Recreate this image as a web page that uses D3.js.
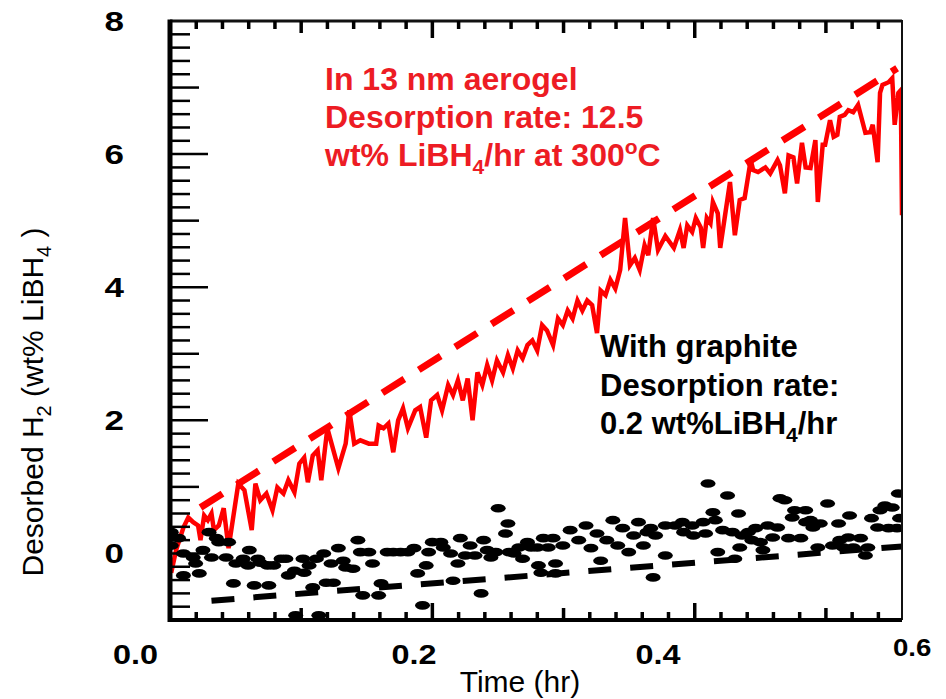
<!DOCTYPE html>
<html>
<head>
<meta charset="utf-8">
<script src="https://cdn.jsdelivr.net/npm/d3@7"></script>
<style>
  body { margin: 0; background: #fff; }
  text { font-family: "Liberation Sans", Arial, sans-serif; }
</style>
</head>
<body>
<div id="chart"></div>
<script>
// x labels as printed on the figure, and y labels
var xLabelValues = [0, 0.2, 0.4, 0.6]
var xLabelText = ["0.0", "0.2", "0.4", "0.6"]
var yLabelValues = [0, 2, 4, 6, 8]

// tick marks of the original axis (hours, drawn over a 0..0.558 hr span)
var xTickMinor = d3.range(0, 0.5401, 0.02)
var xTickMid = [0.1, 0.3, 0.5]
var xTickMajor = [0, 0.2, 0.4]
var yTickMinor = d3.range(-1, 8.001, 0.2)

// aerogel run: [time hr, desorbed H2 wt%]
var aerogelRun = [
  [0.001,-0.29],[0.005,0.05],[0.011,0.39],[0.015,0.54],[0.019,0.47],[0.023,0.42],[0.025,0.20],
  [0.028,0.57],[0.031,0.50],[0.034,0.60],[0.036,0.35],[0.040,0.42],[0.044,0.68],[0.048,0.08],
  [0.056,1.05],[0.061,0.95],[0.067,0.35],[0.070,1.05],[0.074,0.80],[0.079,0.90],[0.084,0.65],
  [0.088,0.99],[0.093,0.90],[0.097,1.10],[0.102,0.92],[0.106,1.35],[0.110,1.44],[0.113,1.07],
  [0.117,1.47],[0.121,1.55],[0.124,1.10],[0.129,1.88],[0.138,1.28],[0.144,1.65],[0.147,2.15],
  [0.151,1.65],[0.156,1.70],[0.163,1.65],[0.169,1.65],[0.171,1.92],[0.175,1.88],[0.179,1.95],
  [0.183,1.52],[0.187,2.00],[0.191,2.18],[0.195,1.88],[0.201,2.15],[0.205,2.20],[0.210,1.74],
  [0.214,2.30],[0.219,2.38],[0.223,2.15],[0.228,2.53],[0.232,2.38],[0.236,2.60],[0.240,2.30],
  [0.244,2.63],[0.248,2.00],[0.252,2.72],[0.256,2.53],[0.260,2.83],[0.264,2.60],[0.268,2.90],
  [0.273,2.72],[0.277,2.98],[0.281,2.78],[0.285,3.05],[0.289,2.93],[0.293,3.13],[0.297,3.20],
  [0.301,3.05],[0.305,3.43],[0.309,3.35],[0.314,3.13],[0.318,3.53],[0.322,3.43],[0.326,3.65],
  [0.330,3.53],[0.334,3.80],[0.338,3.65],[0.342,3.80],[0.346,3.73],[0.350,3.31],[0.353,3.95],
  [0.357,3.88],[0.361,4.11],[0.365,3.98],[0.369,4.26],[0.373,5.04],[0.377,4.33],[0.381,4.44],
  [0.385,4.26],[0.389,4.63],[0.392,4.48],[0.396,5.04],[0.400,4.56],[0.406,4.77],[0.413,4.59],
  [0.418,4.86],[0.421,4.59],[0.424,4.93],[0.428,4.83],[0.431,5.04],[0.435,4.90],[0.437,4.59],
  [0.440,5.04],[0.443,4.96],[0.445,5.28],[0.449,5.11],[0.451,4.59],[0.459,5.58],[0.463,4.78],
  [0.467,5.31],[0.471,5.34],[0.476,5.91],[0.478,5.76],[0.482,5.73],[0.488,5.80],[0.492,5.71],
  [0.498,5.91],[0.500,5.83],[0.504,5.41],[0.507,5.98],[0.511,5.95],[0.514,5.56],[0.518,6.17],
  [0.521,5.80],[0.525,5.79],[0.529,6.21],[0.531,5.28],[0.535,6.14],[0.537,6.14],[0.541,6.51],
  [0.544,6.26],[0.547,6.29],[0.549,6.56],[0.553,6.59],[0.556,6.66],[0.560,6.63],[0.564,6.74],
  [0.570,6.32],[0.574,6.33],[0.576,6.44],[0.580,5.88],[0.582,6.92],[0.584,7.04],[0.589,7.08],
  [0.592,7.14],[0.594,6.44],[0.597,6.92],[0.599,6.96],[0.600,5.08]
]

// graphite run: [time hr, desorbed H2 wt%]
var graphiteRun = [
  [0.000,0.12],[0.001,0.32],[0.001,0.12],[0.007,0.23],[0.011,-0.33],[0.011,0.00],[0.019,-0.06],
  [0.021,-0.15],[0.024,-0.30],[0.027,0.05],[0.032,0.32],[0.034,-0.06],[0.038,0.23],[0.040,0.17],
  [0.046,-0.06],[0.048,0.17],[0.052,-0.45],[0.054,-0.15],[0.060,-0.08],[0.064,-0.18],[0.065,0.05],
  [0.069,-0.48],[0.072,-0.08],[0.074,-0.14],[0.080,-0.18],[0.081,-0.48],[0.085,-0.18],[0.091,-0.08],
  [0.095,-0.08],[0.097,-0.33],[0.102,-0.26],[0.103,-0.93],[0.109,-0.08],[0.110,-0.29],[0.114,-0.18],
  [0.117,-0.51],[0.120,-0.08],[0.122,-0.93],[0.126,0.00],[0.128,-0.44],[0.132,-0.15],[0.134,-0.44],
  [0.138,0.08],[0.142,-0.11],[0.144,-0.21],[0.150,-0.23],[0.154,0.20],[0.156,0.02],[0.158,-0.63],
  [0.163,0.02],[0.166,-0.15],[0.171,-0.63],[0.173,-0.45],[0.178,0.02],[0.183,0.02],[0.189,0.02],
  [0.195,0.02],[0.200,0.08],[0.203,-0.30],[0.207,-0.78],[0.210,-0.18],[0.212,0.02],[0.215,0.17],
  [0.222,0.17],[0.224,0.09],[0.230,0.00],[0.232,-0.41],[0.236,-0.15],[0.238,0.23],[0.242,-0.03],
  [0.246,0.12],[0.250,-0.03],[0.255,-0.60],[0.257,0.20],[0.260,0.05],[0.263,-0.06],[0.267,0.02],
  [0.269,0.68],[0.275,0.30],[0.277,0.45],[0.278,0.02],[0.282,0.00],[0.286,0.09],[0.289,-0.08],
  [0.293,0.17],[0.296,0.09],[0.301,0.09],[0.302,-0.18],[0.304,-0.29],[0.306,0.23],[0.310,0.09],
  [0.314,0.23],[0.316,-0.15],[0.316,-0.30],[0.322,0.12],[0.328,0.35],[0.335,0.20],[0.341,0.42],
  [0.345,0.08],[0.350,0.30],[0.353,-0.11],[0.358,0.20],[0.363,0.50],[0.367,0.12],[0.371,0.38],
  [0.376,0.02],[0.380,0.27],[0.384,0.47],[0.388,0.12],[0.391,0.32],[0.394,0.38],[0.396,-0.36],
  [0.398,0.27],[0.406,-0.03],[0.406,0.42],[0.414,0.42],[0.420,0.47],[0.421,0.32],[0.428,0.42],
  [0.429,0.27],[0.437,0.47],[0.439,0.30],[0.441,1.05],[0.445,0.62],[0.447,0.50],[0.449,0.02],
  [0.453,0.35],[0.457,0.87],[0.461,0.32],[0.466,0.60],[0.463,-0.08],[0.467,0.09],[0.469,0.27],
  [0.474,0.32],[0.477,0.20],[0.480,0.38],[0.484,0.17],[0.486,0.05],[0.490,0.42],[0.494,0.24],
  [0.498,0.39],[0.500,0.83],[0.504,0.80],[0.507,0.23],[0.510,0.54],[0.512,0.65],[0.517,0.23],
  [0.521,0.65],[0.521,0.47],[0.525,0.50],[0.527,0.39],[0.531,0.09],[0.533,0.45],[0.539,0.75],
  [0.543,0.12],[0.548,0.45],[0.549,0.20],[0.552,0.09],[0.556,0.24],[0.557,0.57],[0.560,0.09],
  [0.566,0.23],[0.570,-0.03],[0.572,0.09],[0.575,0.53],[0.580,0.39],[0.582,0.65],[0.586,0.72],
  [0.589,0.38],[0.592,0.69],[0.596,0.38],[0.597,0.90],[0.598,0.53]
]

// linear fits
var aerogelFit = [[0.025, 0.69], [0.596, 7.29]]
var graphiteFit = [[0.034, -0.71], [0.600, 0.105]]

var width = 946, height = 699
var pLeft = 170, pRight = 902, pTop = 21, pBottom = 620

var x = d3.scaleLinear().domain([0, 0.6]).range([pLeft, pRight])
var xTick = d3.scaleLinear().domain([0, 0.558]).range([pLeft, pRight])
var y = d3.scaleLinear().domain([-1, 8]).range([pBottom, pTop])

var svg = d3.select("#chart").append("svg")
  .attr("width", width).attr("height", height)

svg.append("defs").append("clipPath").attr("id", "plotClip")
  .append("rect").attr("x", pLeft).attr("y", pTop)
  .attr("width", pRight - pLeft).attr("height", pBottom - pTop)

var plot = svg.append("g").attr("clip-path", "url(#plotClip)")

var line = d3.line().x(function(d){ return x(d[0]) }).y(function(d){ return y(d[1]) })

plot.append("path").datum(aerogelRun).attr("d", line)
  .attr("fill", "none").attr("stroke", "#ff0000").attr("stroke-width", 4.5)

plot.selectAll(".dot").data(graphiteRun).enter().append("ellipse")
  .attr("class", "dot")
  .attr("cx", function(d){ return x(d[0]) })
  .attr("cy", function(d){ return y(d[1]) })
  .attr("rx", 7.5).attr("ry", 4.3)
  .attr("fill", "#000")

plot.append("path").datum(aerogelFit).attr("d", line)
  .attr("fill", "none").attr("stroke", "#ff0000").attr("stroke-width", 7)
  .attr("stroke-dasharray", "26,17")

plot.append("path").datum(graphiteFit).attr("d", line)
  .attr("fill", "none").attr("stroke", "#000").attr("stroke-width", 6)
  .attr("stroke-dasharray", "23,19")

// frame
svg.append("line").attr("x1", pLeft).attr("x2", pRight).attr("y1", pTop).attr("y2", pTop)
  .attr("stroke", "#111").attr("stroke-width", 3)
svg.append("line").attr("x1", pRight).attr("x2", pRight).attr("y1", pTop - 1).attr("y2", pBottom)
  .attr("stroke", "#111").attr("stroke-width", 2)
svg.append("line").attr("x1", pLeft - 2).attr("x2", pRight).attr("y1", pBottom).attr("y2", pBottom)
  .attr("stroke", "#000").attr("stroke-width", 4)
svg.append("line").attr("x1", pLeft).attr("x2", pLeft).attr("y1", pTop - 1.5).attr("y2", pBottom + 2)
  .attr("stroke", "#000").attr("stroke-width", 5)

function xTickLen(v){
  if (xTickMajor.some(function(m){ return Math.abs(m - v) < 1e-6 })) return 17
  if (xTickMid.some(function(m){ return Math.abs(m - v) < 1e-6 })) return 12
  return 8
}

// top and bottom tick marks
var xTicks = xTickMinor.filter(function(v){ return v > 0.001 })
svg.append("g").selectAll("line").data(xTicks).enter().append("line")
  .attr("x1", function(d){ return xTick(d) }).attr("x2", function(d){ return xTick(d) })
  .attr("y1", pTop).attr("y2", function(d){ return pTop + xTickLen(d) })
  .attr("stroke", "#000").attr("stroke-width", 3.5)
svg.append("g").selectAll("line").data(xTicks).enter().append("line")
  .attr("x1", function(d){ return xTick(d) }).attr("x2", function(d){ return xTick(d) })
  .attr("y1", pBottom).attr("y2", function(d){ return pBottom - xTickLen(d) })
  .attr("stroke", "#000").attr("stroke-width", 3.5)

// left tick marks
function yTickLen(v){
  var r = Math.round(v * 5) / 5
  if (Math.abs(r - Math.round(r)) < 1e-6) return Math.round(r) % 2 === 0 ? 38 : 29
  return 20
}
svg.append("g").selectAll("line").data(yTickMinor.slice(1, -1)).enter().append("line")
  .attr("x1", pLeft).attr("x2", function(d){ return pLeft + yTickLen(d) })
  .attr("y1", function(d){ return y(d) }).attr("y2", function(d){ return y(d) })
  .attr("stroke", "#000").attr("stroke-width", 2.5)

// tick labels (the figure's digits are a little wider than tall)
svg.append("g").selectAll("text").data(yLabelValues).enter().append("text")
  .attr("transform", function(d){ return "translate(124," + (y(d) + 10) + ") scale(1.25,1)" })
  .attr("text-anchor", "end").style("font-size", "28px").style("font-weight", "bold")
  .text(function(d){ return d })

var last = xLabelValues.length - 1
svg.append("g").selectAll("text").data(xLabelValues).enter().append("text")
  .attr("transform", function(d, i){
    var px = x(d)
    if (i === 0) px -= 12
    if (i === last) px -= 9
    return "translate(" + px + "," + (i === last ? 656 : 664) + ") scale(1.2,1)"
  })
  .attr("text-anchor", function(d, i){
    if (i === 0) return "end"
    if (i === last) return "start"
    return "middle"
  })
  .style("font-size", function(d, i){ return i === last ? "23px" : "27px" })
  .style("font-weight", "bold")
  .text(function(d, i){ return xLabelText[i] })

// axis titles
svg.append("text").attr("x", 520).attr("y", 692).attr("text-anchor", "middle")
  .style("font-size", "30px").text("Time (hr)")

var yt = svg.append("text").attr("transform", "translate(43,402) rotate(-90)")
  .attr("text-anchor", "middle").style("font-size", "30px")
yt.append("tspan").text("Desorbed H")
yt.append("tspan").text("2").style("font-size", "20px").attr("dy", 8)
yt.append("tspan").text(" (wt% LiBH").attr("dy", -8)
yt.append("tspan").text("4").style("font-size", "20px").attr("dy", 8)
yt.append("tspan").text(" )").attr("dy", -8)

// annotations
var red = "#ed1c24"
var a = svg.append("g").attr("fill", red).style("font-size", "32px").style("font-weight", "bold")
a.append("text").attr("x", 325).attr("y", 90).text("In 13 nm aerogel")
a.append("text").attr("x", 325).attr("y", 128).text("Desorption rate: 12.5")
var a3 = a.append("text").attr("x", 325).attr("y", 166)
a3.append("tspan").text("wt% LiBH")
a3.append("tspan").text("4").style("font-size", "21px").attr("dy", 8)
a3.append("tspan").text("/hr at 300").attr("dy", -8)
a3.append("tspan").text("o").style("font-size", "21px").attr("dy", -12)
a3.append("tspan").text("C").attr("dy", 12)

var b = svg.append("g").attr("fill", "#000").style("font-size", "31px").style("font-weight", "bold")
b.append("text").attr("x", 600).attr("y", 357).text("With graphite")
b.append("text").attr("x", 600).attr("y", 396).text("Desorption rate:")
var b3 = b.append("text").attr("x", 600).attr("y", 434)
b3.append("tspan").text("0.2 wt%LiBH")
b3.append("tspan").text("4").style("font-size", "21px").attr("dy", 8)
b3.append("tspan").text("/hr").attr("dy", -8)
</script>
</body>
</html>
